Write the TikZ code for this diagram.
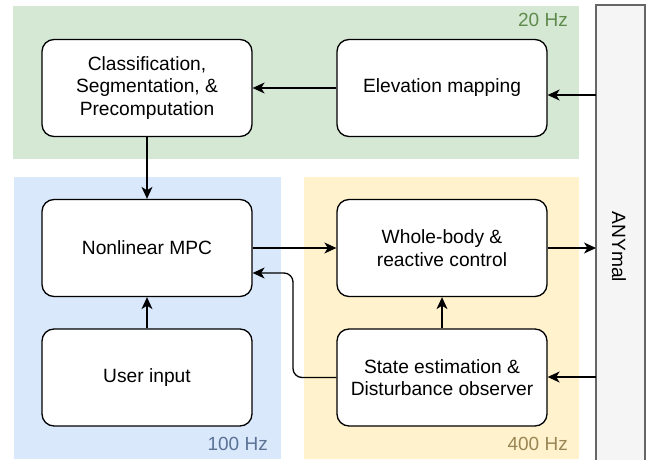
\documentclass[tikz,border=0pt]{standalone}
\usepackage{fontspec}
\setmainfont{Liberation Sans}
\usetikzlibrary{arrows.meta,calc}
\definecolor{gfill}{HTML}{D5E8D4}
\definecolor{bfill}{HTML}{DAE8FC}
\definecolor{yfill}{HTML}{FFF2CC}
\definecolor{gtext}{HTML}{5E8A4C}
\definecolor{btext}{HTML}{5A7294}
\definecolor{ytext}{HTML}{9A8654}
\definecolor{afill}{HTML}{F5F5F5}
\definecolor{astroke}{HTML}{666666}
\tikzset{
  box/.style={draw=black, line width=1.3pt, fill=white, rounded corners=12pt,
    minimum width=210pt, minimum height=97pt, align=center, inner sep=2pt,
    font=\fontsize{19.2}{22.5}\selectfont},
  conn/.style={line width=1.3pt, -{Stealth[length=12pt,width=11pt,inset=3.5pt]}},
  hz/.style={anchor=east, font=\fontsize{19}{22}\selectfont, inner sep=0pt},
}
\begin{document}
\begin{tikzpicture}[x=1pt,y=-1pt]
\useasboundingbox (0,0) rectangle (651,460);
\clip (0,0) rectangle (651,460);
% background regions
\fill[gfill] (13,6) rectangle (579,159);
\fill[bfill] (14,177) rectangle (281,459);
\fill[yfill] (304,177) rectangle (579,459);
\node[hz, text=gtext] (hz20) at (568,20) {20 Hz};
\node[hz, text=btext] (hz100) at (268,444) {100 Hz};
\node[hz, text=ytext] (hz400) at (568,444) {400 Hz};
% ANYmal
\draw[astroke, fill=afill, line width=1.3pt] (596,5) rectangle (645,470);
\node[rotate=-90, font=\fontsize{19.2}{22}\selectfont] (any) at (619,247) {ANYmal};
\coordinate (a1) at (596,95);
\coordinate (a2) at (596,248);
\coordinate (a3) at (596,377);
% boxes
\node[box] (cls) at (147,88) {Classification,\\Segmentation, \&\\Precomputation};
\node[box] (elev) at (442,88) {Elevation mapping};
\node[box] (mpc) at (147,248) {Nonlinear MPC};
\node[box] (user) at (147,377.5) {User input};
\node[box] (wb) at (442,248) {Whole-body \&\\reactive control};
\node[box] (se) at (442,377.5) {State estimation \&\\Disturbance observer};
% connectors
\draw[conn] (elev.west) -- (cls.east);
\draw[conn] (a1) -- (a1 -| elev.east);
\draw[conn] (cls.south) -- (mpc.north);
\draw[conn] (user.north) -- (mpc.south);
\draw[conn] (mpc.east) -- (wb.west);
\draw[conn] (wb.east) -- (a2);
\draw[conn] (a3) -- (a3 -| se.east);
\draw[conn] (se.north) -- (wb.south);
\coordinate (mpcin) at ($(mpc.east)+(0,25)$);
\draw[conn, rounded corners=9pt] (se.west) -- (293,377.5) -- (293,273) -- (mpcin);
\end{tikzpicture}
\end{document}
